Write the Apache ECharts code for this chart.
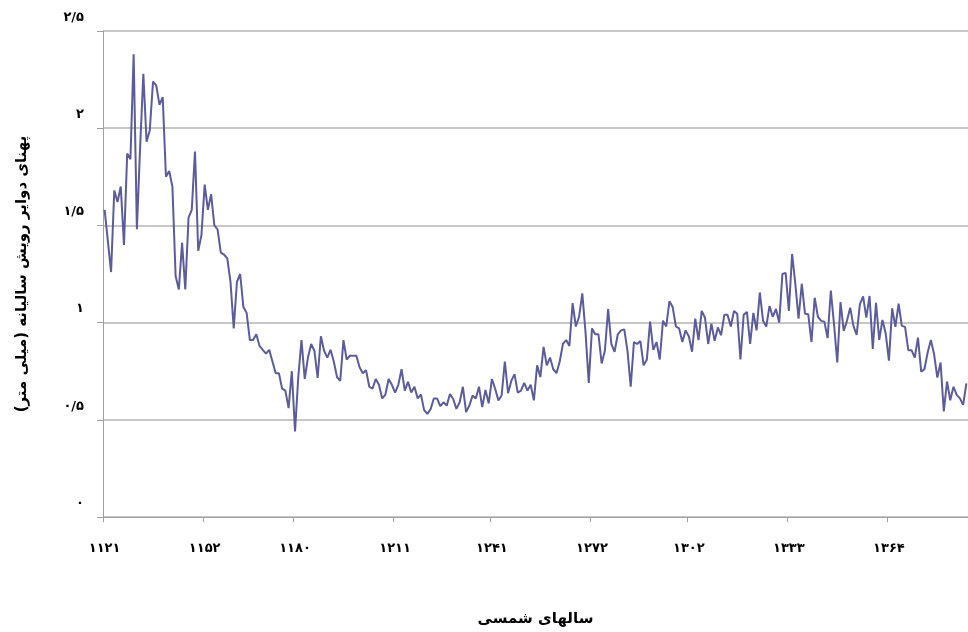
<!DOCTYPE html>
<html>
<head>
<meta charset="utf-8">
<script src="https://cdn.jsdelivr.net/npm/echarts@6/dist/echarts.min.js"></script>
<style>
html, body { margin: 0; padding: 0; background: #fff; }
#main { width: 968px; height: 632px; }
</style>
</head>
<body>
<div id="main" dir="rtl"></div>
<script>
// سالها (شمسی)
var firstYear = 1121;
var yearCount = 268;
var years = [];
for (var k = 0; k < yearCount; k++) {
	years.push(String(firstYear + k));
}

// سالهایی که برچسب دارند
var tickYears = [1121, 1152, 1180, 1211, 1241, 1272, 1302, 1333, 1364];

// برچسب‌های محور عمودی
var yTickValues = [0, 0.5, 1, 1.5, 2, 2.5];
var yTickLabels = ['۰', '۰/۵', '۱', '۱/۵', '۲', '۲/۵'];

// پهنای دوایر رویش (میلی متر)
var ringWidth = [
	1.58, 1.42, 1.26, 1.68, 1.62, 1.70, 1.40, 1.87, 1.84, 2.38,
	1.48, 1.90, 2.28, 1.93, 1.99, 2.24, 2.22, 2.12, 2.16, 1.75,
	1.78, 1.70, 1.24, 1.17, 1.41, 1.17, 1.54, 1.58, 1.88, 1.37,
	1.45, 1.71, 1.58, 1.66, 1.50, 1.48, 1.36, 1.35, 1.33, 1.21,
	0.97, 1.21, 1.25, 1.08, 1.05, 0.91, 0.91, 0.94, 0.88, 0.86,
	0.84, 0.86, 0.80, 0.74, 0.74, 0.66, 0.65, 0.56, 0.75, 0.44,
	0.72, 0.91, 0.71, 0.82, 0.89, 0.855, 0.715, 0.93, 0.855, 0.82,
	0.86, 0.80, 0.72, 0.70, 0.91, 0.81, 0.83, 0.83, 0.83, 0.77,
	0.74, 0.755, 0.67, 0.66, 0.71, 0.68, 0.61, 0.63, 0.71, 0.68,
	0.64, 0.68, 0.76, 0.65, 0.695, 0.64, 0.67, 0.61, 0.63, 0.55,
	0.53, 0.555, 0.61, 0.61, 0.57, 0.59, 0.573, 0.633, 0.607, 0.556,
	0.59, 0.67, 0.54, 0.573, 0.625, 0.61, 0.67, 0.565, 0.654, 0.585,
	0.71, 0.66, 0.60, 0.625, 0.80, 0.637, 0.70, 0.735, 0.64, 0.65,
	0.69, 0.65, 0.68, 0.60, 0.78, 0.72, 0.875, 0.78, 0.82, 0.76,
	0.74, 0.80, 0.89, 0.91, 0.88, 1.10, 0.98, 1.03, 1.15, 0.95,
	0.69, 0.97, 0.94, 0.94, 0.79, 0.855, 1.07, 0.89, 0.85, 0.94,
	0.96, 0.965, 0.855, 0.67, 0.90, 0.89, 0.905, 0.78, 0.81, 1.005,
	0.86, 0.90, 0.81, 1.01, 0.98, 1.11, 1.08, 0.98, 0.97, 0.90,
	0.96, 0.93, 0.85, 1.02, 0.91, 1.06, 1.025, 0.89, 0.995, 0.906,
	0.975, 0.935, 1.04, 1.04, 0.98, 1.06, 1.046, 0.81, 1.04, 1.055,
	0.89, 1.05, 0.96, 1.155, 1.01, 0.98, 1.085, 1.03, 1.07, 1.00,
	1.25, 1.256, 1.06, 1.353, 1.20, 1.02, 1.20, 1.046, 1.043, 0.90,
	1.128, 1.03, 1.009, 1.005, 0.92, 1.165, 0.99, 0.795, 1.106, 0.957,
	1.009, 1.077, 0.983, 0.937, 1.094, 1.135, 1.026, 1.137, 0.864, 1.102,
	0.911, 1.014, 0.944, 0.804, 1.073, 0.978, 1.097, 0.983, 0.978, 0.858,
	0.858, 0.82, 0.923, 0.748, 0.76, 0.846, 0.91, 0.837, 0.717, 0.795,
	0.543, 0.697, 0.60, 0.67, 0.628, 0.61, 0.577, 0.687
];

var faDigits = ['۰', '۱', '۲', '۳', '۴', '۵', '۶', '۷', '۸', '۹'];
function toFa(s) {
	return String(s).replace(/[0-9]/g, function (d) { return faDigits[+d]; });
}
function isTickYear(idx, val) {
	return tickYears.indexOf(+val) !== -1;
}

var fontFa = '"DejaVu Sans", sans-serif';

var myChart = echarts.init(document.getElementById('main'), null, { renderer: 'canvas' });
var option = {
	backgroundColor: '#ffffff',
	animation: false,
	grid: {
		left: 103,
		right: 0,
		top: 31,
		bottom: 115
	},
	xAxis: {
		type: 'category',
		data: years,
		boundaryGap: true,
		name: 'سالهای شمسی',
		nameLocation: 'middle',
		nameGap: 95,
		nameTextStyle: {
			fontFamily: fontFa,
			fontWeight: 'bold',
			fontSize: 15,
			color: '#000'
		},
		axisLine: {
			lineStyle: { color: '#a0a0a0', width: 1 }
		},
		axisTick: {
			show: true,
			interval: isTickYear,
			length: 5,
			lineStyle: { color: '#a0a0a0' }
		},
		axisLabel: {
			interval: isTickYear,
			margin: 25,
			fontFamily: fontFa,
			fontWeight: 'bold',
			fontSize: 13,
			color: '#000',
			formatter: function (val) { return toFa(val); }
		},
		splitLine: { show: false }
	},
	yAxis: {
		type: 'value',
		min: 0,
		max: 2.5,
		interval: 0.5,
		name: 'پهنای دوایر رویش سالیانه (میلی متر)',
		nameLocation: 'middle',
		nameGap: 73,
		nameRotate: 90,
		nameTextStyle: {
			fontFamily: fontFa,
			fontWeight: 'bold',
			fontSize: 15,
			color: '#000'
		},
		axisLine: {
			show: true,
			lineStyle: { color: '#a0a0a0', width: 1 }
		},
		axisTick: {
			show: true,
			length: 6,
			lineStyle: { color: '#a0a0a0' }
		},
		axisLabel: {
			margin: 19,
			verticalAlign: 'bottom',
			padding: [0, 0, 7, 0],
			fontFamily: fontFa,
			fontWeight: 'bold',
			fontSize: 13,
			color: '#000',
			formatter: function (val) {
				var i = yTickValues.indexOf(val);
				return i === -1 ? '' : yTickLabels[i];
			}
		},
		splitLine: {
			show: true,
			lineStyle: { color: '#b4b4b4', width: 1.5 }
		}
	},
	series: [{
		name: 'پهنای دوایر رویش',
		type: 'line',
		data: ringWidth,
		symbol: 'none',
		lineStyle: { color: '#5c5c9a', width: 2 },
		itemStyle: { color: '#5c5c9a' }
	}]
};
myChart.setOption(option);
</script>
</body>
</html>
